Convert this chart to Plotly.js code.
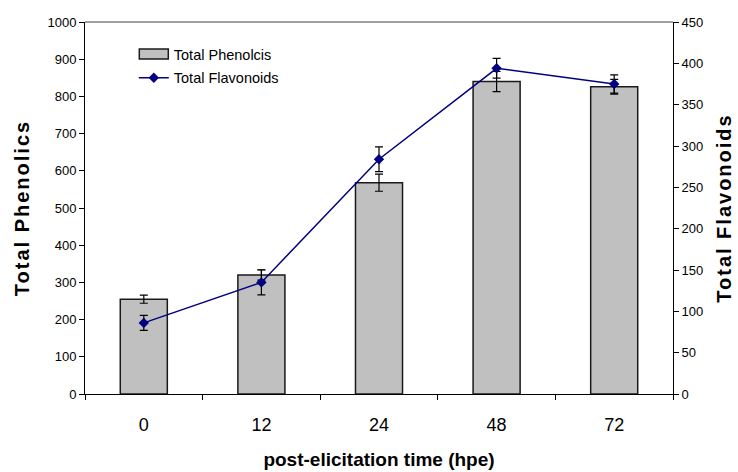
<!DOCTYPE html>
<html>
<head>
<meta charset="utf-8">
<script src="https://cdn.plot.ly/plotly-3.0.1.min.js"></script>
<style>
html,body{margin:0;padding:0;background:#fff}
#chart{width:738px;height:472px}
.g-ytitle text, .g-y2title text { letter-spacing: 2px; }
</style>
</head>
<body>
<div id="chart"></div>
<script>
const categories = ['0', '12', '24', '48', '72'];
const phenolics = [255, 320, 568, 840, 826];
const phenolicsErr = [11, 14, 23, 27, 20];
const flavonoids = [86, 135, 284, 394, 375];
const flavonoidsErr = [9, 15, 15, 12, 11];

const font = 'Arial, "Liberation Sans", sans-serif';

const traces = [
  {
    type: 'bar', name: 'Total Phenolcis', x: categories, y: phenolics, legendgroup: 'a',
    marker: {color: '#c0c0c0', line: {color: '#1a1a1a', width: 1.5}},
    error_y: {type: 'data', array: phenolicsErr, visible: true, color: '#000', thickness: 1.2, width: 4},
    yaxis: 'y'
  },
  {
    type: 'scatter', mode: 'lines+markers', name: 'Total Flavonoids', x: categories, y: flavonoids, legendgroup: 'b',
    line: {color: '#000080', width: 1.5},
    marker: {symbol: 'diamond', size: 8, color: '#000080'},
    error_y: {type: 'data', array: flavonoidsErr, visible: true, color: '#000', thickness: 1.2, width: 4},
    yaxis: 'y2'
  }
];

const layout = {
  width: 738, height: 472,
  margin: {l: 85, r: 65, t: 22, b: 78},
  paper_bgcolor: '#fff', plot_bgcolor: 'rgba(0,0,0,0)',
  font: {family: font, color: '#000', size: 13},
  bargap: 0.6,
  showlegend: true,
  legend: {x: 0.083, y: 0.957, xanchor: 'left', yanchor: 'top', bgcolor: 'rgba(0,0,0,0)',
           font: {family: font, size: 14.5, color: '#000'}, tracegroupgap: 2},
  xaxis: {
    type: 'category', showline: true, linecolor: '#000', linewidth: 1,
    ticks: 'outside', ticklen: 5, tickcolor: '#000', tickson: 'boundaries',
    tickfont: {family: font, size: 18, color: '#000'}, ticklabelstandoff: 14,
    showgrid: false, zeroline: false,
    title: {text: '<b>post-elicitation time (hpe)</b>', font: {family: font, size: 19, color: '#000'}, standoff: 19}
  },
  yaxis: {
    range: [0, 1000], dtick: 100, showline: true, linecolor: '#000', linewidth: 1,
    ticks: 'outside', ticklen: 5, tickcolor: '#000', showgrid: false, zeroline: false,
    tickfont: {family: font, size: 13, color: '#000'},
    title: {text: '<b>Total Phenolics</b>', font: {family: font, size: 20, color: '#000'}, standoff: 12}
  },
  yaxis2: {
    range: [0, 450], dtick: 50, overlaying: 'y', side: 'right', showline: true, linecolor: '#000', linewidth: 1,
    ticks: 'outside', ticklen: 5, tickcolor: '#000', showgrid: false, zeroline: false,
    tickfont: {family: font, size: 13, color: '#000'},
    title: {text: '<b>Total Flavonoids</b>', font: {family: font, size: 20, color: '#000'}, standoff: 14}
  },
  shapes: [
    {type: 'line', xref: 'paper', yref: 'paper', x0: 0, x1: 1, y0: 1, y1: 1, line: {color: '#808080', width: 1.5}}
  ]
};

Plotly.newPlot('chart', traces, layout, {displayModeBar: false, staticPlot: true}).then(function (gd) {
  const items = gd.querySelectorAll('.legend .traces');
  if (items.length) {
    items[0].querySelectorAll('.legendpoints path').forEach(function (p) {
      p.setAttribute('d', 'M14.5,5H-14.5V-5H14.5Z');
      p.style.strokeWidth = '1.5px';
    });
  }
});
</script>
</body>
</html>
